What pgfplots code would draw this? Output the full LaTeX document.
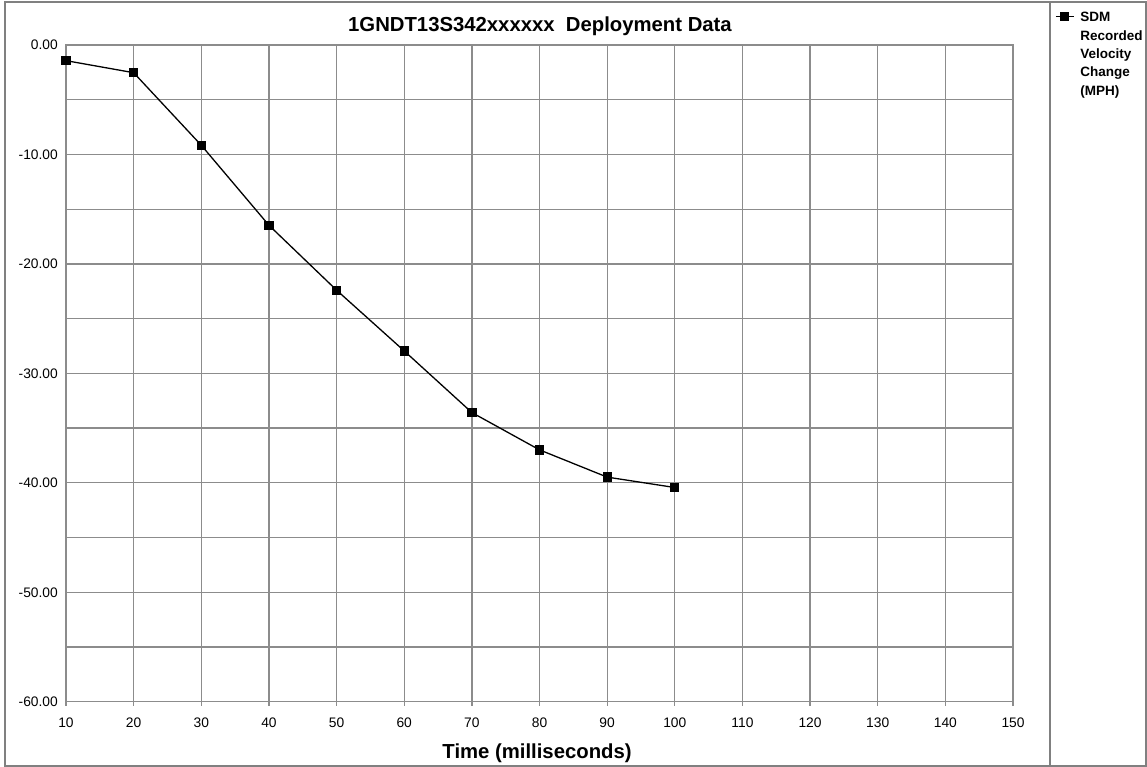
\documentclass[border=0pt]{standalone}
\usepackage{fontspec}
\setmainfont{Liberation Sans}
\usepackage{pgfplots}
\pgfplotsset{compat=1.18}
\definecolor{gridgray}{HTML}{8C8C8C}
\definecolor{framegray}{HTML}{808080}

\begin{document}
\begin{tikzpicture}[x=1pt,y=1pt]
\useasboundingbox (0,0) rectangle (1147,-767);
% outer frame and legend separator
\draw[framegray, line width=1.5pt] (5,-2) rectangle (1146,-766);
\draw[framegray, line width=2pt] (1049.5,-2) -- (1049.5,-766);
\node[anchor=base, font=\fontsize{20.3}{24}\selectfont\bfseries] at (540,-32)
  {1GNDT13S342xxxxxx\ \ Deployment Data};

\begin{axis}[
    at={(66pt,-701.7pt)}, anchor=south west,
    scale only axis,
    width=947pt, height=656.7pt,
    xmin=10, xmax=150, ymin=-60, ymax=0,
    xtick={10,20,...,150},
    ytick={-60,-50,...,0},
    minor y tick num=1,
    grid=both,
    major grid style={gridgray, line width=1.3pt},
    minor grid style={gridgray, line width=1.3pt},
    axis line style={gridgray, line width=1.3pt},
    xtick pos=bottom, ytick pos=left,
    tick align=outside,
    major tick length=4pt,
    xtick style={gridgray, line width=1.3pt},
    ytick style={draw=none},
    minor tick style={draw=none},
    /pgf/number format/assume math mode=true,
    yticklabel style={/pgf/number format/fixed, /pgf/number format/fixed zerofill,
        /pgf/number format/precision=2},
    yticklabel style={font=\fontsize{13.8}{16}\selectfont, anchor=east, inner sep=0pt, xshift=-4pt},
    xticklabel style={font=\fontsize{13.8}{16}\selectfont, anchor=base, inner sep=0pt, yshift=-21.3pt},
    xlabel={Time (milliseconds)},
    xlabel style={font=\fontsize{20.3}{24}\selectfont\bfseries, anchor=base,
        at={(axis description cs:0.4974,0)}, yshift=-56.3pt, inner sep=0pt},
    clip=false,
    legend style={at={(axis description cs:1.0443,1.0500)}, anchor=north west,
        draw=none, fill=none, inner sep=0pt,
        nodes={inner sep=0pt},
        column sep=6pt,
        font=\fontsize{13.5}{18.3}\selectfont\bfseries},
    legend cell align=left,
    legend image code/.code={
        \draw[mark repeat=2, mark phase=2, #1] plot coordinates {(0pt,1.5pt) (9pt,1.5pt) (18pt,1.5pt)};
    },
]
\addplot[black, line width=1.3pt, mark=square*, mark size=4pt,
    mark options={solid}] coordinates {
    (10,-1.43)
    (20,-2.53)
    (30,-9.16)
    (40,-16.47)
    (50,-22.40)
    (60,-27.95)
    (70,-33.58)
    (80,-36.99)
    (90,-39.48)
    (100,-40.43)
};
\addlegendentry{\parbox[t]{66pt}{\raggedright\bfseries SDM\\Recorded\\Velocity\\Change\\(MPH)}}
\end{axis}
\end{tikzpicture}
\end{document}
